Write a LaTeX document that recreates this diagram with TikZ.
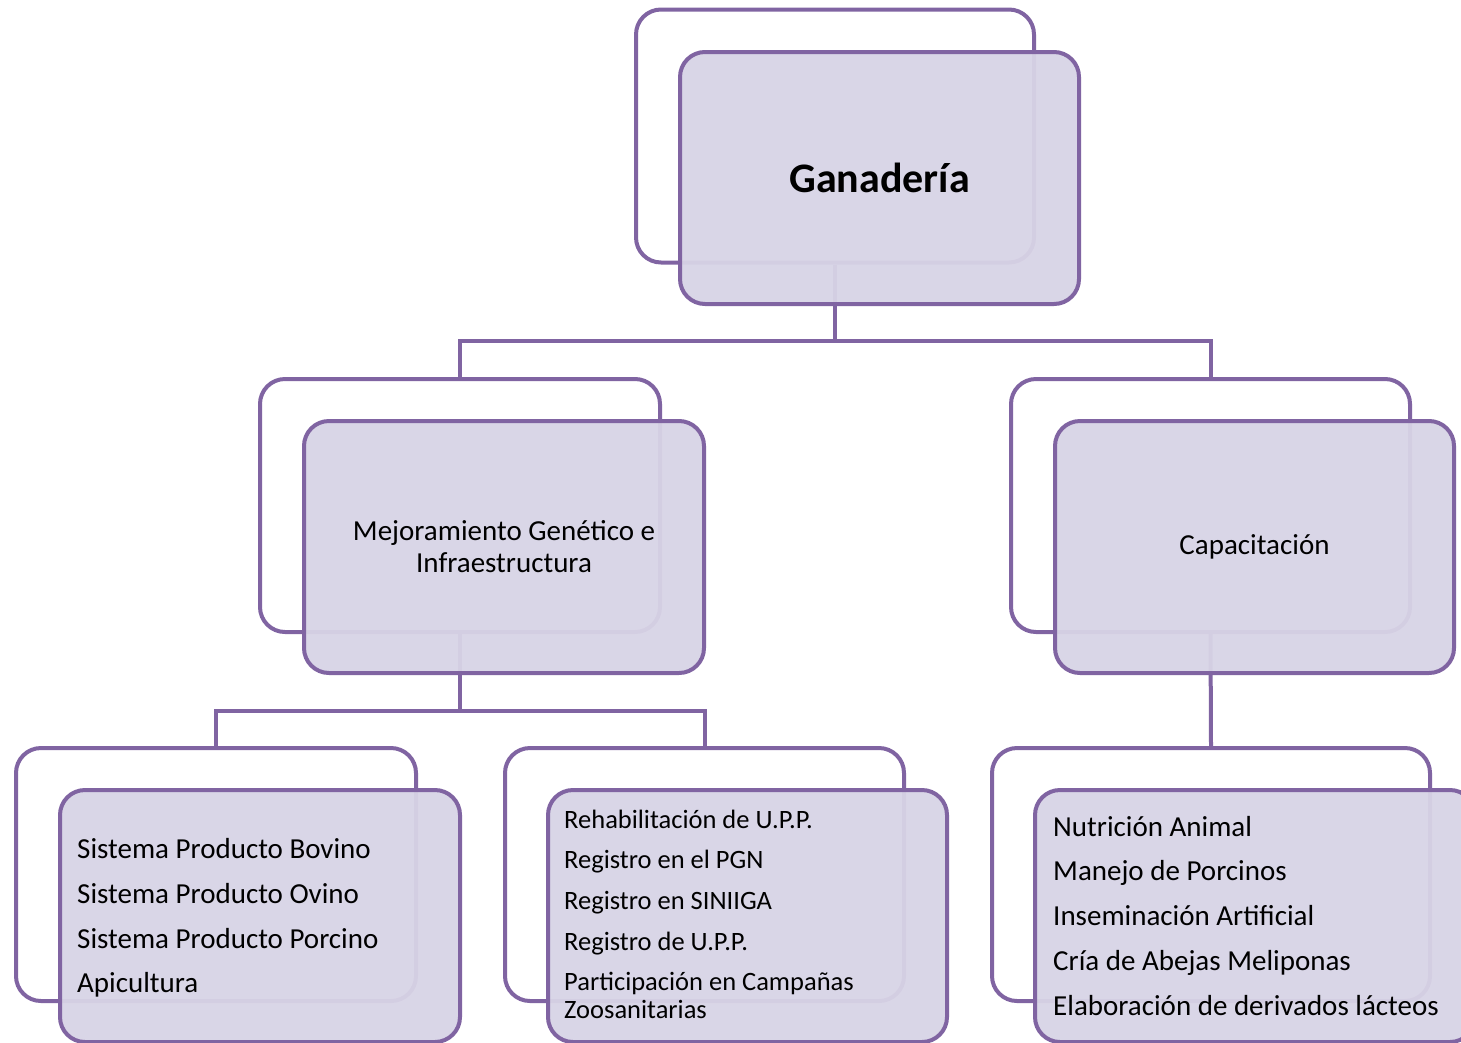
\documentclass[tikz,border=0pt]{standalone}
\usepackage{fontspec}
\setmainfont{Carlito}
\definecolor{edgepurple}{RGB}{128,100,162}
\definecolor{lav}{RGB}{216,212,230}
\begin{document}
\begin{tikzpicture}[x=1pt,y=-1pt,
  backbox/.style={draw=edgepurple,line width=4pt,rounded corners=25pt,fill=white,minimum width=#1,minimum height=253pt,inner sep=0pt},
  frontbox/.style={draw=edgepurple,line width=4pt,rounded corners=25pt,fill=lav,fill opacity=0.95,text opacity=1,minimum width=#1,minimum height=252pt,inner sep=0pt},
  conn/.style={draw=edgepurple,line width=4pt},
  listtxt/.style={anchor=base west,inner sep=0pt,font=\fontsize{29}{34}\selectfont},
  midtxt/.style={anchor=base west,inner sep=0pt,font=\fontsize{26.5}{30}\selectfont}
]
\useasboundingbox (0,0) rectangle (1461,1042);
\fill[white] (0,0) rectangle (1461,1042);

% back boxes
\node[backbox=398pt] (gb) at (835,136) {};
\node[backbox=400pt] (mb) at (460,505.5) {};
\node[backbox=399pt] (cb) at (1210.5,505.5) {};
\node[backbox=400pt] (blb) at (216,874.5) {};
\node[backbox=399pt] (bmb) at (704.5,874.5) {};
\node[backbox=438pt] (brb) at (1211,874.5) {};

% connectors
\coordinate (j1) at (835,341);
\coordinate (j2) at (460,711);
\draw[conn] (gb.south) -- (j1) -| (mb.north);
\draw[conn] (j1) -| (cb.north);
\draw[conn] (mb.south) -- (j2) -| (blb.north);
\draw[conn] (j2) -| (bmb.north);
\draw[conn] (cb.south) -- (brb.north);

% front boxes
\node[frontbox=399pt] (gf) at (879.5,178) {};
\node[frontbox=400pt] (mf) at (504,547) {};
\node[frontbox=399pt] (cf) at (1254.5,547) {};
\node[frontbox=400pt] (blf) at (260,916) {};
\node[frontbox=399pt] (bmf) at (747.5,916) {};
\node[frontbox=440pt] (brf) at (1255,916) {};

% titles
\node[font=\fontsize{42}{48}\selectfont\bfseries] (gt) at (gf.center) {Ganadería};
\node[font=\fontsize{29}{32}\selectfont,align=center] (mt) at (mf.center) {Mejoramiento Genético e\\Infraestructura};
\node[font=\fontsize{29}{32}\selectfont] (ct) at (cf.center) {Capacitación};

% bottom left list
\node[listtxt] (l1) at (77,858) {Sistema Producto Bovino};
\node[listtxt] (l2) at (77,903) {Sistema Producto Ovino};
\node[listtxt] (l3) at (77,948) {Sistema Producto Porcino};
\node[listtxt] (l4) at (77,992) {Apicultura};

% bottom middle list
\node[midtxt] (m1) at (564,828) {Rehabilitación de U.P.P.};
\node[midtxt] (m2) at (564,868.5) {Registro en el PGN};
\node[midtxt] (m3) at (564,909.5) {Registro en SINIIGA};
\node[midtxt] (m4) at (564,950) {Registro de U.P.P.};
\node[midtxt] (m5) at (564,990.5) {Participación en Campañas};
\node[midtxt] (m6) at (564,1018.5) {Zoosanitarias};

% bottom right list
\node[listtxt] (r1) at (1053,836) {Nutrición Animal};
\node[listtxt] (r2) at (1053,880.5) {Manejo de Porcinos};
\node[listtxt] (r3) at (1053,925) {Inseminación Artificial};
\node[listtxt] (r4) at (1053,970) {Cría de Abejas Meliponas};
\node[listtxt] (r5) at (1053,1015) {Elaboración de derivados lácteos};
\end{tikzpicture}
\end{document}
